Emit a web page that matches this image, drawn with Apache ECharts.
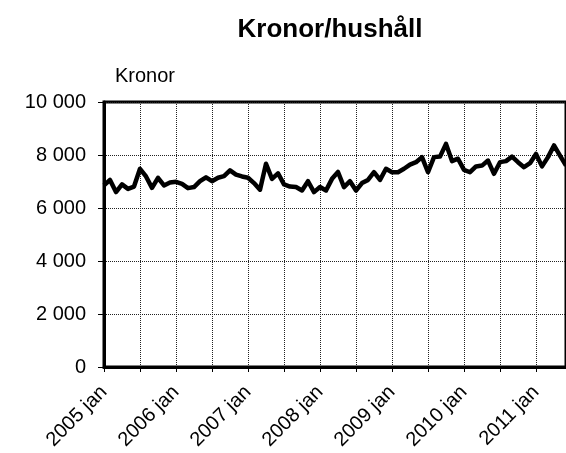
<!DOCTYPE html>
<html>
<head>
<meta charset="utf-8">
<script src="https://cdn.jsdelivr.net/npm/echarts@6/dist/echarts.min.js"></script>
<style>html,body{margin:0;padding:0;background:#fff;}#c{width:566px;height:453px;}</style>
</head>
<body>
<div id="c"></div>
<script>
var years = [2005, 2006, 2007, 2008, 2009, 2010, 2011];
var monthNames = ['jan','feb','mar','apr','maj','jun','jul','aug','sep','okt','nov','dec'];
var values = [
  6850, 7060, 6600, 6890, 6720, 6810, 7480, 7190, 6760, 7140, 6850, 6960,
  6990, 6910, 6750, 6790, 7010, 7160, 7010, 7140, 7200, 7420, 7260, 7190,
  7140, 6940, 6690, 7670, 7100, 7310, 6890, 6810, 6790, 6660, 7010, 6600,
  6790, 6660, 7100, 7360, 6790, 7010, 6660, 6940, 7060, 7350, 7060, 7480,
  7350, 7350, 7480, 7640, 7730, 7920, 7350, 7920, 7940, 8420, 7770, 7860,
  7440, 7350, 7570, 7600, 7790, 7290, 7730, 7770, 7940, 7730, 7540, 7690,
  8040, 7570, 7920, 8360, 7980, 7600
];
var yTicks = [0, 2000, 4000, 6000, 8000, 10000];
var titleText = 'Kronor/hushåll';
var yName = 'Kronor';

var categories = [];
for (var i = 0; i < values.length; i++) {
  categories.push(years[Math.floor(i / 12)] + ' ' + monthNames[i % 12]);
}
function fmt(v) {
  return String(v).replace(/\B(?=(\d{3})+(?!\d))/g, ' ');
}
var font = 'Arial, "Liberation Sans", sans-serif';
var chart = echarts.init(document.getElementById('c'), null, {renderer: 'canvas'});
chart.setOption({
  animation: false,
  backgroundColor: '#fff',
  title: [
    {text: titleText, left: 325, top: 12, textAlign: 'center',
     textStyle: {fontFamily: font, fontSize: 26, fontWeight: 'bold', color: '#000'}},
    {text: yName, left: 110, top: 61,
     textStyle: {fontFamily: font, fontSize: 20, fontWeight: 'normal', color: '#000'}}
  ],
  grid: {left: 104, top: 102, right: -2, bottom: 86, show: true, borderColor: '#000', borderWidth: 3, backgroundColor: 'transparent'},
  xAxis: {
    type: 'category',
    data: categories,
    boundaryGap: false,
    axisLine: {show: true, lineStyle: {color: '#000', width: 3}},
    axisTick: {show: true, interval: 5, length: 5, lineStyle: {color: '#000', width: 1}},
    splitLine: {show: true, interval: 5, lineStyle: {color: '#222', width: 1, type: 'dotted'}},
    axisLabel: {interval: 11, rotate: 45, margin: 22, fontFamily: font, fontSize: 20, color: '#000'}
  },
  yAxis: {
    type: 'value',
    min: yTicks[0],
    max: yTicks[yTicks.length - 1],
    interval: 2000,
    axisLine: {show: true, lineStyle: {color: '#000', width: 3}},
    axisTick: {show: true, length: 6, lineStyle: {color: '#000', width: 1}},
    splitLine: {show: true, lineStyle: {color: '#222', width: 1, type: 'dotted'}},
    axisLabel: {margin: 18, fontFamily: font, fontSize: 20, color: '#000', formatter: fmt}
  },
  series: [{
    type: 'line',
    data: values,
    symbol: 'none',
    lineStyle: {color: '#000', width: 4.5, join: 'round'},
    z: 3
  }]
});
</script>
</body>
</html>
